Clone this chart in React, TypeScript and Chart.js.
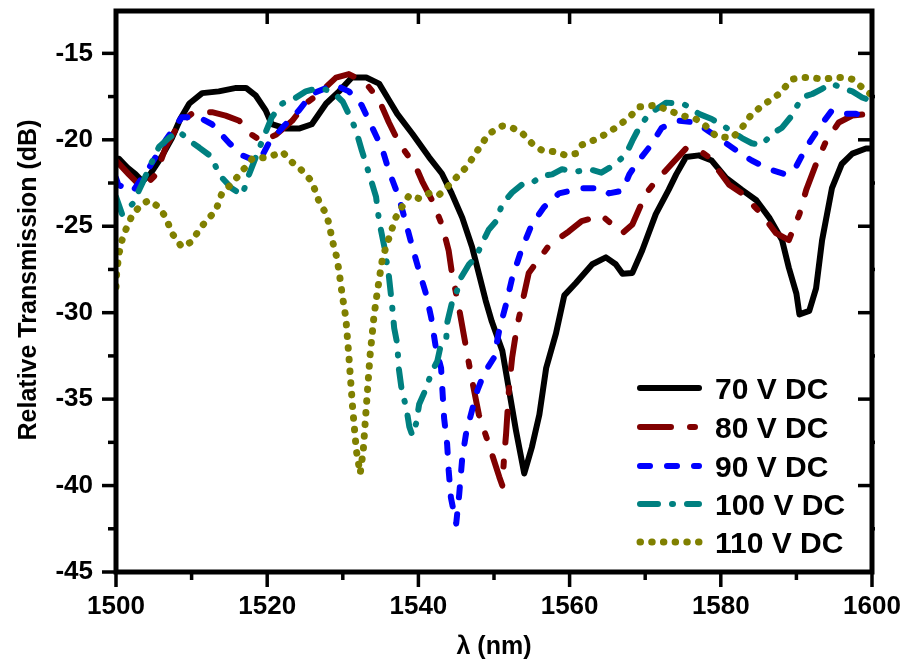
import React, { useEffect, useRef } from "react";
import { Chart, registerables } from "chart.js";
Chart.register(...registerables);

const seriesLabels = ["70 V DC", "80 V DC", "90 V DC", "100 V DC", "110 V DC"];
const seriesColors = ["#000000", "#800000", "#0000FF", "#008080", "#808000"];

const xTicks = [1500, 1520, 1540, 1560, 1580, 1600];
const xMinorTicks = [1510, 1530, 1550, 1570, 1590];
const yTicks = [-45, -40, -35, -30, -25, -20, -15];
const yMinorTicks = [-42.5, -37.5, -32.5, -27.5, -22.5, -17.5];
const xMin = 1500;
const xMax = 1600;
const yMin = -45;
const yMax = -12.55;

const wl70 = [1500.0, 1500.4, 1501.5, 1502.6, 1503.5, 1504.5, 1506.0, 1507.4, 1508.5, 1509.7, 1511.4, 1513.6, 1515.9, 1517.2, 1518.5, 1519.8, 1520.6, 1522.5, 1524.2, 1525.9, 1527.8, 1529.5, 1531.2, 1533.1, 1534.8, 1536.1, 1537.2, 1539.2, 1541.4, 1543.1, 1544.4, 1545.8, 1547.1, 1548.0, 1548.9, 1549.7, 1551.1, 1552.0, 1552.9, 1554.0, 1555.0, 1556.0, 1556.9, 1558.2, 1559.3, 1560.8, 1563.0, 1564.8, 1566.1, 1567.0, 1568.3, 1569.6, 1571.4, 1573.1, 1574.1, 1575.4, 1577.1, 1578.8, 1580.7, 1582.8, 1584.7, 1586.4, 1588.1, 1589.0, 1590.0, 1590.4, 1591.7, 1592.6, 1593.4, 1594.7, 1596.0, 1597.4, 1599.2, 1600.0];
const t70 = [-21.1, -21.1, -21.6, -22.0, -22.4, -22.0, -21.0, -19.9, -18.8, -17.9, -17.3, -17.2, -17.0, -17.0, -17.45, -18.3, -19.1, -19.35, -19.35, -19.1, -17.9, -17.2, -16.4, -16.4, -16.75, -17.7, -18.5, -19.65, -21.0, -21.95, -23.1, -24.5, -26.2, -27.75, -29.3, -30.5, -32.2, -34.5, -36.8, -39.3, -37.8, -35.9, -33.2, -31.2, -29.0, -28.3, -27.2, -26.8, -27.2, -27.75, -27.7, -26.4, -24.3, -22.9, -22.0, -21.0, -20.9, -21.2, -22.2, -22.9, -23.5, -24.5, -25.8, -27.4, -28.9, -30.1, -29.9, -28.6, -25.8, -22.8, -21.4, -20.8, -20.5, -20.5];

const wl80 = [1500.0, 1501.7, 1503.5, 1505.3, 1506.6, 1508.3, 1510.0, 1512.7, 1514.5, 1516.3, 1517.6, 1519.3, 1521.2, 1523.3, 1525.1, 1526.8, 1529.1, 1530.8, 1533.0, 1534.8, 1536.1, 1537.4, 1539.7, 1540.5, 1541.8, 1543.1, 1544.0, 1544.4, 1545.4, 1546.3, 1547.0, 1548.0, 1549.3, 1550.7, 1551.1, 1551.3, 1551.6, 1552.0, 1552.4, 1553.0, 1553.5, 1554.6, 1557.3, 1559.9, 1561.6, 1564.3, 1567.0, 1568.3, 1570.1, 1571.4, 1573.5, 1575.4, 1577.1, 1578.4, 1581.1, 1582.8, 1585.4, 1587.3, 1589.0, 1590.4, 1591.3, 1592.6, 1593.9, 1595.6, 1597.4, 1599.6, 1600.0];
const t80 = [-21.2, -22.0, -22.8, -22.0, -20.4, -19.1, -18.5, -18.4, -18.6, -18.9, -19.6, -20.1, -19.7, -18.9, -17.9, -17.35, -16.4, -16.2, -16.7, -17.7, -19.0, -20.15, -21.6, -22.4, -23.5, -24.9, -26.4, -27.6, -29.8, -32.0, -33.7, -35.9, -37.6, -39.5, -40.0, -38.6, -37.0, -34.3, -32.6, -30.9, -29.9, -27.7, -26.1, -25.3, -24.7, -24.4, -25.4, -24.9, -23.1, -22.4, -21.4, -20.5, -20.6, -21.0, -22.6, -23.1, -24.3, -25.4, -25.8, -24.3, -22.9, -21.4, -20.1, -19.0, -18.6, -18.5, -18.5];

const wl90 = [1500.0, 1500.3, 1502.2, 1504.4, 1506.6, 1508.7, 1511.0, 1512.7, 1515.0, 1516.7, 1518.9, 1520.2, 1522.0, 1524.2, 1525.9, 1527.8, 1529.1, 1530.8, 1532.5, 1533.9, 1535.2, 1536.1, 1537.4, 1538.4, 1539.2, 1540.1, 1541.0, 1541.7, 1542.3, 1543.0, 1543.4, 1543.8, 1544.0, 1544.3, 1545.0, 1545.4, 1545.8, 1546.3, 1547.0, 1547.8, 1548.7, 1550.0, 1550.7, 1551.6, 1552.4, 1553.6, 1555.0, 1556.6, 1558.6, 1561.6, 1564.3, 1565.2, 1567.0, 1567.9, 1568.8, 1570.5, 1572.2, 1574.5, 1576.7, 1578.4, 1580.2, 1582.0, 1584.1, 1586.4, 1588.6, 1589.9, 1591.3, 1593.0, 1594.7, 1596.6, 1597.9, 1599.6, 1600.0];
const t90 = [-22.2, -22.6, -23.0, -21.6, -20.0, -18.7, -18.7, -19.1, -20.2, -20.9, -21.3, -20.2, -19.3, -18.3, -17.35, -17.0, -16.85, -17.2, -18.0, -19.3, -20.5, -21.8, -23.3, -24.9, -26.2, -27.6, -28.9, -30.3, -32.0, -33.2, -36.1, -37.6, -39.1, -40.7, -42.2, -40.5, -38.4, -37.0, -35.8, -34.5, -33.5, -32.6, -31.0, -29.5, -28.0, -26.4, -24.9, -23.9, -23.1, -22.8, -22.8, -23.1, -22.95, -22.0, -21.4, -20.45, -19.3, -18.9, -19.0, -19.5, -20.05, -20.6, -21.2, -21.7, -22.0, -21.6, -20.45, -19.3, -18.3, -18.5, -18.5, -18.7, -18.7];

const wl100 = [1500.0, 1500.8, 1502.2, 1503.5, 1504.4, 1505.7, 1507.0, 1508.3, 1509.7, 1511.0, 1512.7, 1513.6, 1515.3, 1516.7, 1517.6, 1518.5, 1519.3, 1520.6, 1522.0, 1523.3, 1525.1, 1526.8, 1528.6, 1530.0, 1531.0, 1531.7, 1532.5, 1533.5, 1534.4, 1534.8, 1535.5, 1536.1, 1536.5, 1536.8, 1537.2, 1537.4, 1537.8, 1538.4, 1538.8, 1539.2, 1539.7, 1540.1, 1541.0, 1541.7, 1542.5, 1543.0, 1543.7, 1543.8, 1544.4, 1545.0, 1545.6, 1546.7, 1547.6, 1548.3, 1549.3, 1550.3, 1551.1, 1552.4, 1553.8, 1555.0, 1556.3, 1557.7, 1559.0, 1560.8, 1562.6, 1564.2, 1566.1, 1567.5, 1568.3, 1569.2, 1570.5, 1572.8, 1574.9, 1575.8, 1577.1, 1578.8, 1580.7, 1582.8, 1584.1, 1585.4, 1586.8, 1588.1, 1589.4, 1590.7, 1592.1, 1593.4, 1594.7, 1596.0, 1597.4, 1598.7, 1599.6, 1600.0];
const t100 = [-23.3, -24.3, -23.7, -22.5, -21.6, -20.4, -19.9, -19.5, -20.05, -20.45, -21.0, -22.0, -22.8, -23.2, -22.0, -21.0, -20.1, -18.7, -17.9, -17.7, -17.2, -17.0, -17.2, -17.8, -18.7, -19.4, -20.6, -22.0, -23.3, -24.7, -26.2, -27.9, -29.5, -30.9, -31.8, -33.2, -34.5, -35.5, -36.6, -37.1, -36.4, -35.3, -34.4, -33.5, -32.8, -31.8, -31.4, -30.6, -29.5, -28.9, -28.0, -27.2, -26.8, -26.1, -25.2, -24.7, -23.7, -23.05, -22.55, -22.5, -22.1, -22.0, -21.7, -21.85, -21.7, -21.9, -21.4, -20.8, -20.05, -19.3, -18.5, -17.85, -17.9, -18.1, -18.5, -18.8, -19.3, -19.9, -20.2, -20.3, -19.65, -19.3, -18.6, -17.55, -17.35, -17.05, -16.75, -17.0, -17.2, -17.55, -17.7, -17.8];

const wl110 = [1500.0, 1500.1, 1500.4, 1500.8, 1501.3, 1502.2, 1503.5, 1504.4, 1505.7, 1506.6, 1507.4, 1508.7, 1510.0, 1511.0, 1511.9, 1513.2, 1514.0, 1515.3, 1516.7, 1518.0, 1520.2, 1522.0, 1523.3, 1524.2, 1525.9, 1526.8, 1527.8, 1528.2, 1528.6, 1529.2, 1529.5, 1529.9, 1530.4, 1530.8, 1531.3, 1531.8, 1532.3, 1532.7, 1533.1, 1533.6, 1534.1, 1534.4, 1534.8, 1535.2, 1535.7, 1536.1, 1537.0, 1537.8, 1538.8, 1540.1, 1541.4, 1542.7, 1544.0, 1545.4, 1546.3, 1547.1, 1548.0, 1549.3, 1551.1, 1552.4, 1553.7, 1555.0, 1556.3, 1558.2, 1559.5, 1560.8, 1561.6, 1563.9, 1566.1, 1567.9, 1569.2, 1571.4, 1573.1, 1574.9, 1576.7, 1578.0, 1579.4, 1581.5, 1582.8, 1584.1, 1585.9, 1587.7, 1589.4, 1590.7, 1592.1, 1593.4, 1595.2, 1596.6, 1597.4, 1598.5, 1599.6, 1600.0];
const t110 = [-28.5, -27.6, -26.6, -25.8, -25.2, -24.3, -23.7, -23.5, -23.9, -24.5, -25.4, -26.2, -25.9, -25.2, -24.7, -24.1, -23.1, -22.55, -21.8, -21.1, -21.0, -20.7, -21.3, -21.6, -22.4, -23.5, -24.3, -24.9, -25.8, -26.8, -27.6, -28.9, -30.3, -32.5, -35.5, -38.0, -39.3, -38.0, -35.5, -32.5, -30.3, -29.3, -28.1, -27.0, -26.2, -25.7, -24.5, -23.9, -23.2, -23.4, -23.1, -23.2, -22.65, -22.0, -21.6, -21.1, -20.5, -19.65, -19.2, -19.3, -19.6, -20.2, -20.6, -20.7, -20.9, -20.8, -20.3, -19.9, -19.3, -18.7, -18.1, -18.0, -18.3, -18.6, -18.8, -19.2, -19.8, -19.9, -19.3, -18.5, -17.9, -17.35, -16.5, -16.4, -16.4, -16.5, -16.4, -16.4, -16.5, -16.9, -17.3, -17.4];

const seriesX = [wl70, wl80, wl90, wl100, wl110];
const seriesY = [t70, t80, t90, t100, t110];
const seriesDash = [[], [31, 19, 5, 19], [10, 17], [18, 14, 1, 14], [0.5, 11.2]];
const seriesWidth = [6, 6, 6, 6, 7];

const FONT = "'Liberation Sans', Arial, Helvetica, sans-serif";

const framePlugin = {
  id: "frameDecor",
  afterDatasetsDraw(chart: any) {
    const { ctx, chartArea: a, scales } = chart;
    const xs = scales.x;
    const ys = scales.y;
    ctx.save();
    ctx.strokeStyle = "#000";
    ctx.fillStyle = "#000";
    ctx.lineCap = "butt";
    const line = (x1: number, y1: number, x2: number, y2: number) => {
      ctx.beginPath();
      ctx.moveTo(x1, y1);
      ctx.lineTo(x2, y2);
      ctx.stroke();
    };
    ctx.lineWidth = 3.5;
    xTicks.forEach((v) => {
      const p = xs.getPixelForValue(v);
      line(p, a.bottom, p, a.bottom + 15);
      line(p, a.top, p, a.top + 13);
    });
    xMinorTicks.forEach((v) => {
      const p = xs.getPixelForValue(v);
      line(p, a.bottom, p, a.bottom + 8);
    });
    yTicks.forEach((v) => {
      const p = ys.getPixelForValue(v);
      line(a.left - 14, p, a.left, p);
      line(a.right - 14, p, a.right, p);
    });
    yMinorTicks.forEach((v) => {
      const p = ys.getPixelForValue(v);
      line(a.left - 8, p, a.left, p);
      line(a.right, p, a.right + 3, p);
    });
    ctx.lineWidth = 5;
    ctx.strokeRect(a.left, a.top, a.right - a.left, a.bottom - a.top);

    // axis titles
    ctx.font = `bold 25px ${FONT}`;
    ctx.textAlign = "center";
    ctx.textBaseline = "alphabetic";
    ctx.fillText("\u03bb (nm)", (a.left + a.right) / 2, 654);
    ctx.save();
    ctx.translate(36, 280);
    ctx.rotate(-Math.PI / 2);
    ctx.fillText("Relative Transmission (dB)", 0, 0);
    ctx.restore();

    // legend
    const rows = [388, 427, 466, 504, 542];
    chart.data.datasets.forEach((ds: any, i: number) => {
      const y = rows[i];
      ctx.save();
      ctx.strokeStyle = ds.borderColor;
      ctx.lineWidth = ds.borderWidth;
      ctx.lineCap = "round";
      ctx.setLineDash(ds.borderDash || []);
      ctx.beginPath();
      ctx.moveTo(640, y);
      ctx.lineTo(699, y);
      ctx.stroke();
      ctx.restore();
      ctx.font = `bold 30px ${FONT}`;
      ctx.textAlign = "left";
      ctx.textBaseline = "alphabetic";
      ctx.fillStyle = "#000";
      ctx.fillText(ds.label, 715, y + 10.7);
    });
    ctx.restore();
  },
};

export default function App() {
  const ref = useRef<HTMLCanvasElement | null>(null);
  useEffect(() => {
    document.body.style.margin = "0";
    const canvas = ref.current;
    if (!canvas) return;
    const datasets = seriesLabels.map((label, i) => ({
      label,
      data: seriesX[i].map((x, j) => ({ x, y: seriesY[i][j] })),
      borderColor: seriesColors[i],
      backgroundColor: seriesColors[i],
      borderWidth: seriesWidth[i],
      borderDash: seriesDash[i],
      borderCapStyle: "round",
      borderJoinStyle: "round",
      pointRadius: 0,
      tension: 0,
      fill: false,
      order: 5 - i,
    }));
    const chart = new Chart(canvas, {
      type: "line",
      data: { datasets } as any,
      options: {
        responsive: false,
        animation: false,
        devicePixelRatio: 1,
        layout: { padding: { top: 11, right: 37, bottom: 0, left: 0 } },
        plugins: { legend: { display: false }, tooltip: { enabled: false } },
        scales: {
          x: {
            type: "linear",
            min: xMin,
            max: xMax,
            grid: { display: false, drawTicks: false },
            border: { display: false },
            afterBuildTicks: (s: any) => {
              s.ticks = xTicks.map((v) => ({ value: v }));
            },
            afterFit: (s: any) => {
              s.height = 92;
              s.paddingLeft = 0;
              s.paddingRight = 0;
            },
            ticks: {
              font: { size: 26, weight: "bold", family: FONT },
              color: "#000",
              padding: 19,
              maxRotation: 0,
              autoSkip: false,
              callback: (v: any) => String(v),
            },
          },
          y: {
            type: "linear",
            min: yMin,
            max: yMax,
            grid: { display: false, drawTicks: false },
            border: { display: false },
            afterBuildTicks: (s: any) => {
              s.ticks = yTicks.map((v) => ({ value: v }));
            },
            afterFit: (s: any) => {
              s.width = 116;
              s.paddingTop = 0;
              s.paddingBottom = 0;
            },
            ticks: {
              font: { size: 26, weight: "bold", family: FONT },
              color: "#000",
              padding: 23,
              autoSkip: false,
              callback: (v: any) => String(v),
            },
          },
        },
      } as any,
      plugins: [framePlugin],
    });
    return () => chart.destroy();
  }, []);
  return <canvas ref={ref} width={909} height={664} style={{ display: "block" }} />;
}
